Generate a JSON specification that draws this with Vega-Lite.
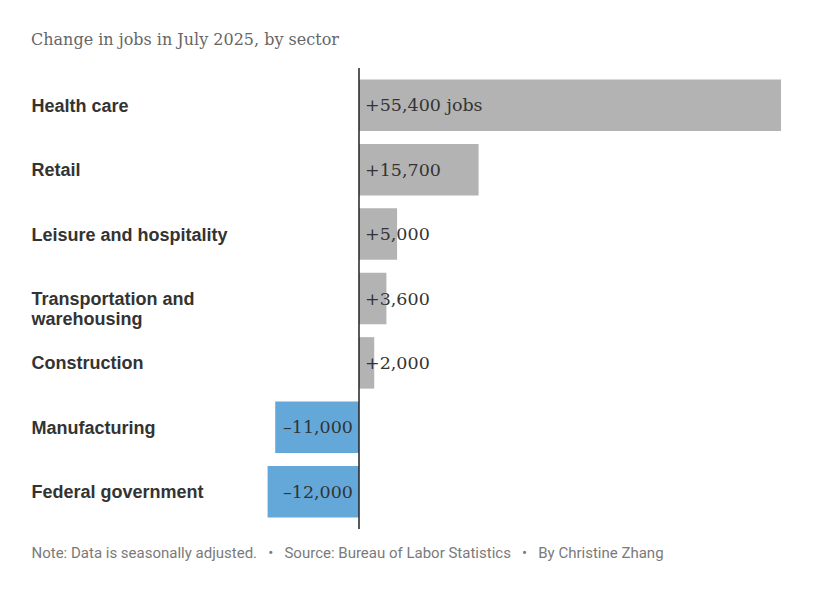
{
  "$schema": "https://vega.github.io/schema/vega-lite/v6.json",
  "width": 750,
  "height": 461,
  "autosize": {"type": "none"},
  "padding": {"left": 31, "top": 68, "right": 40, "bottom": 81},
  "background": "white",
  "config": {"view": {"stroke": null}},
  "title": {
    "text": "Change in jobs in July 2025, by sector",
    "anchor": "start",
    "frame": "group",
    "font": "DejaVu Serif",
    "fontSize": 16,
    "fontWeight": "normal",
    "color": "#666666",
    "offset": 19
  },
  "data": {
    "values": [
      {"sector": "Health care", "change": 55400, "label": "+55,400 jobs", "direction": "gain"},
      {"sector": "Retail", "change": 15700, "label": "+15,700", "direction": "gain"},
      {"sector": "Leisure and hospitality", "change": 5000, "label": "+5,000", "direction": "gain"},
      {"sector": "Transportation and warehousing", "change": 3600, "label": "+3,600", "direction": "gain"},
      {"sector": "Construction", "change": 2000, "label": "+2,000", "direction": "gain"},
      {"sector": "Manufacturing", "change": -11000, "label": "–11,000", "direction": "loss"},
      {"sector": "Federal government", "change": -12000, "label": "–12,000", "direction": "loss"}
    ]
  },
  "layer": [
    {
      "mark": {"type": "bar"},
      "encoding": {
        "y": {
          "field": "sector",
          "type": "nominal",
          "sort": null,
          "scale": {"paddingInner": 0.2, "paddingOuter": 0.18},
          "axis": {
            "title": null,
            "domain": false,
            "ticks": false,
            "tickSize": 0,
            "labelPadding": 0,
            "labelAlign": "left",
            "labelBaseline": "middle",
            "labelOffset": 1.5,
            "labelFont": "Liberation Sans",
            "labelFontSize": 18,
            "labelFontWeight": "bold",
            "labelColor": "#333333",
            "labelLineHeight": 20,
            "labelLimit": 400,
            "labelExpr": "datum.value == 'Transportation and warehousing' ? ['Transportation and', 'warehousing'] : datum.value"
          }
        },
        "x": {
          "field": "change",
          "type": "quantitative",
          "scale": {"domain": [-43060, 55400], "nice": false, "zero": false},
          "axis": {
            "title": "Note: Data is seasonally adjusted.\u00a0\u00a0\u00a0•\u00a0\u00a0\u00a0Source: Bureau of Labor Statistics\u00a0\u00a0\u00a0•\u00a0\u00a0\u00a0By Christine Zhang",
            "labels": false,
            "ticks": false,
            "domain": false,
            "grid": false,
            "titleAnchor": "start",
            "titleAlign": "left",
            "titleX": 0,
            "titleY": 28,
            "titleBaseline": "alphabetic",
            "titleFont": "Roboto",
            "titleFontSize": 15,
            "titleFontWeight": "normal",
            "titleColor": "#7a7a7a"
          }
        },
        "color": {
          "field": "direction",
          "type": "nominal",
          "scale": {"domain": ["gain", "loss"], "range": ["#b3b3b3", "#64a8da"]},
          "legend": null
        }
      }
    },
    {
      "data": {"values": [{"zero": 0}]},
      "mark": {"type": "rule", "color": "#222222", "strokeWidth": 1.5},
      "encoding": {
        "x": {"field": "zero", "type": "quantitative"}
      }
    },
    {
      "transform": [{"filter": "datum.change > 0"}],
      "mark": {"type": "text", "align": "left", "baseline": "middle", "dx": 6, "dy": 1, "font": "DejaVu Serif", "fontSize": 17.5, "color": "#333333"},
      "encoding": {
        "y": {"field": "sector", "type": "nominal", "sort": null},
        "x": {"datum": 0, "type": "quantitative"},
        "text": {"field": "label"}
      }
    },
    {
      "transform": [{"filter": "datum.change < 0"}],
      "mark": {"type": "text", "align": "right", "baseline": "middle", "dx": -6, "dy": 1, "font": "DejaVu Serif", "fontSize": 17.5, "color": "#333333"},
      "encoding": {
        "y": {"field": "sector", "type": "nominal", "sort": null},
        "x": {"datum": 0, "type": "quantitative"},
        "text": {"field": "label"}
      }
    }
  ]
}
